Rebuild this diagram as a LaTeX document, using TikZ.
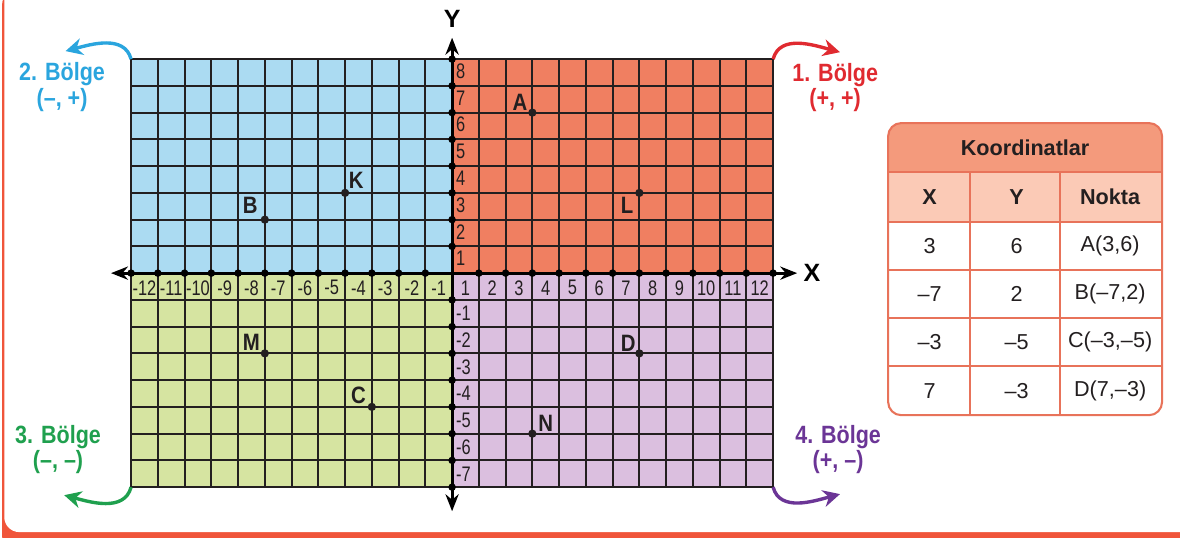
\documentclass[tikz,border=0pt]{standalone}
\usepackage{fontspec}
\setmainfont{Liberation Sans}
\newfontfamily\narrowsf[FakeStretch=0.78]{Liberation Sans}
\newfontfamily\semisf[FakeStretch=0.86]{Liberation Sans}
\usetikzlibrary{arrows.meta}
\definecolor{bolgeblue}{HTML}{2AA5DE}
\definecolor{bolgered}{HTML}{E02A30}
\definecolor{bolgegreen}{HTML}{1FA04E}
\definecolor{bolgepurple}{HTML}{6B3596}
\definecolor{fillblue}{HTML}{ABDBF2}
\definecolor{fillred}{HTML}{F07F61}
\definecolor{fillgreen}{HTML}{D6E4A1}
\definecolor{fillpurple}{HTML}{DBBFDF}
\definecolor{tablehead}{HTML}{F49A7C}
\definecolor{tablesub}{HTML}{FBCAB6}
\definecolor{tableline}{HTML}{E8735A}
\definecolor{framered}{HTML}{F0553A}
\definecolor{inkblack}{HTML}{231F20}
\tikzset{
	gridnum/.style={font=\fontsize{11.2}{12}\narrowsf\color{inkblack}, inner sep=0pt}
}
\tikzset{
	pointname/.style={font=\fontsize{12.6}{13}\semisf\bfseries\color{inkblack}, inner sep=1pt}
}
\tikzset{
	bolgetext/.style={font=\fontsize{13.3}{13.6}\semisf\bfseries, align=center, inner sep=0pt}
}
\tikzset{
	bolgearrow/.style={line width=1.8pt, -{Stealth[length=9pt,width=9pt]}}
}
\tikzset{
	tabletext/.style={font=\fontsize{11.5}{12}\selectfont\color{inkblack}, inner sep=0pt}
}
\newcommand{\kalin}[1]{\textbf{#1}}

\begin{document}
\begin{tikzpicture}[x=0.5cm, y=0.5cm]
      \useasboundingbox (-16.90,-9.87) rectangle (27.21,10.21);
      % card frame
      \fill[framered, rounded corners=8pt] (-16.82,-10.4) rectangle (27.8,10.6);
      \fill[white, rounded corners=8pt] (-16.74,-9.68) rectangle (27.8,10.7);
      % quadrant fills
      \fill[fillred] (0,0) rectangle (12,8);
      \fill[fillblue] (-12,0) rectangle (0,8);
      \fill[fillgreen] (-12,-8) rectangle (0,0);
      \fill[fillpurple] (0,-8) rectangle (12,0);
      \draw[line width=1pt, inkblack, step={(1,1)}] (-12,-8) grid (12,8);
      % axes
      \coordinate (xl) at (-12.75,0);
      \coordinate (xr) at (12.9,0);
      \coordinate (yt) at (0,8.8);
      \coordinate (yb) at (0,-8.9);
      \draw[line width=1.6pt, {Stealth[length=9pt,width=7pt]}-{Stealth[length=9pt,width=7pt]}] (xl) -- (xr);
      \draw[line width=1.6pt, {Stealth[length=9pt,width=7pt]}-{Stealth[length=9pt,width=7pt]}] (yb) -- (yt);
      \node[font=\fontsize{13.3}{14}\selectfont\bfseries] (xname) at (13.45,0) {X};
      \node[font=\fontsize{13.3}{14}\selectfont\bfseries] (yname) at (0,9.5) {Y};
      \foreach \k in {-12,...,-1,1,2,...,12}
        \fill (\k,0) circle (2pt);
      \foreach \k in {-8,...,-1,1,2,...,8}
        \fill (0,\k) circle (2pt);
      % axis numbers
      \foreach \k in {1,...,12} {
        \node[gridnum] (xp\k) at (\k-0.5,-0.55) {\k};
        \node[gridnum] (xn\k) at (-\k+0.5,-0.55) {-\k};
      }
      \foreach \k in {1,...,8}
        \node[gridnum, anchor=west] (yp\k) at (0.14,\k-0.45) {\k};
      \foreach \k in {1,...,7}
        \node[gridnum, anchor=west] (yn\k) at (0.14,-\k-0.5) {-\k};
      % points and their letters
      \foreach \x/\y/\n/\dx/\dy in {
        3/6/A/-0.46/0.38, 7/3/L/-0.46/-0.46, -4/3/K/0.42/0.48, -7/2/B/-0.55/0.52,
        -7/-3/M/-0.5/0.4, -3/-5/C/-0.5/0.44, 3/-6/N/0.5/0.38, 7/-3/D/-0.42/0.38}
        {
        \node[circle, fill=inkblack, inner sep=0pt, minimum size=4.4pt] (pt\n) at (\x,\y) {};
        \node[pointname] (lbl\n) at (\x+\dx,\y+\dy) {\n};
        }
      % quadrant names with curved arrows
      \node[bolgetext, text=bolgeblue] (q2) at (-14.58,6.95) {2. Bölge\\(–, +)};
      \node[bolgetext, text=bolgered] (q1) at (14.32,6.94) {1. Bölge\\(+, +)};
      \node[bolgetext, text=bolgegreen] (q3) at (-14.73,-6.60) {3. Bölge\\(–, –)};
      \node[bolgetext, text=bolgepurple] (q4) at (14.43,-6.60) {4. Bölge\\(+, –)};
      \coordinate (q2c) at (-12,8);
      \coordinate (q2e) at (-14.45,8.3);
      \coordinate (q1c) at (12,8);
      \coordinate (q1e) at (14.5,8.26);
      \coordinate (q3c) at (-12,-8);
      \coordinate (q3e) at (-14.5,-8.3);
      \coordinate (q4c) at (12,-8);
      \coordinate (q4e) at (14.5,-8.26);
      \draw[bolgearrow, bolgeblue] (q2c) to[out=105,in=15] (q2e);
      \draw[bolgearrow, bolgered] (q1c) to[out=75,in=165] (q1e);
      \draw[bolgearrow, bolgegreen] (q3c) to[out=-105,in=-15] (q3e);
      \draw[bolgearrow, bolgepurple] (q4c) to[out=-75,in=195] (q4e);
      % coordinate table
      \begin{scope}
        \clip[rounded corners=7pt] (16.3,-5.31) rectangle (26.54,5.61);
        \fill[white] (16.3,-5.31) rectangle (26.54,5.61);
        \fill[tablehead] (16.3,3.78) rectangle (26.54,5.61);
        \fill[tablesub] (16.3,1.91) rectangle (26.54,3.78);
      \end{scope}
      \foreach \y in {3.78,1.91,0.11,-1.68,-3.48}
        \draw[tableline, line width=1pt] (16.3,\y) -- (26.54,\y);
      \foreach \x in {19.36,22.73}
        \draw[tableline, line width=1pt] (\x,3.78) -- (\x,-5.31);
      \draw[tableline, line width=1.1pt, rounded corners=7pt] (16.3,-5.31) rectangle (26.54,5.61);
      \node[tabletext] (thead) at (21.42,4.70) {\kalin{Koordinatlar}};
      \node[tabletext] (tx) at (17.85,2.85) {\kalin{X}};
      \node[tabletext] (ty) at (21.1,2.85) {\kalin{Y}};
      \node[tabletext] (tn) at (24.6,2.85) {\kalin{Nokta}};
      \foreach \r/\y/\a/\b/\c in {
        1/1.01/3/6/A(3{,}6), 2/-0.79/–7/2/B(–7{,}2),
        3/-2.58/–3/–5/C(–3{,}–5), 4/-4.40/7/–3/D(7{,}–3)}
        {
        \node[tabletext] (ra\r) at (17.85,\y) {\a};
        \node[tabletext] (rb\r) at (21.1,\y) {\b};
        \node[tabletext] (rc\r) at (24.6,\y) {\c};
        }
\end{tikzpicture}
\end{document}
